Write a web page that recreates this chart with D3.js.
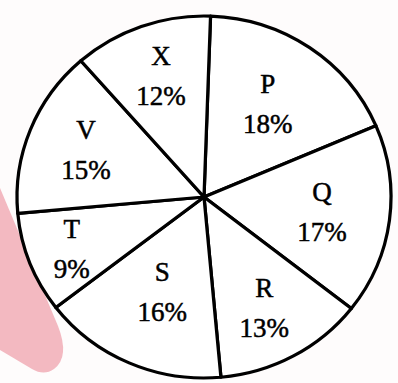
<!DOCTYPE html>
<html>
<head>
<meta charset="utf-8">
<script src="https://cdn.jsdelivr.net/npm/d3@7"></script>
<style>
  html, body { margin: 0; padding: 0; background: #fefcfc; }
  svg { display: block; }
</style>
</head>
<body>
<svg id="chart" width="398" height="383"></svg>
<script>
// Data
const categories = ["P", "Q", "R", "S", "T", "V", "X"];
const values = [18, 17, 13, 16, 9, 15, 12];
const valueLabels = ["18%", "17%", "13%", "16%", "9%", "15%", "12%"];

// Layout constants (not data)
const labelRadius = [113, 119, 126, 104, 142, 127, 128];

const W = 398, H = 383;
const cx = 204, cy = 197, R = 184;
const svg = d3.select("#chart");

// Pink highlighter mark behind the pie
svg.append("path")
  .attr("d", "M0,188 L58,326 Q70,357 54,369 Q44,376 32,369 L0,350 Z")
  .attr("fill", "#f3b9c1");

const pie = d3.pie().sort(null).value(d => d.v)
  .startAngle(0.035).endAngle(0.035 + 2 * Math.PI);
const data = categories.map((c, i) => ({ c, v: values[i], lab: valueLabels[i], lr: labelRadius[i] }));
const arcs = pie(data);
const arc = d3.arc().innerRadius(0).outerRadius(R);

const g = svg.append("g")
  .attr("transform", `translate(${cx},${cy}) scale(${187 / R},${181 / R})`);

g.selectAll("path.slice")
  .data(arcs)
  .join("path")
  .attr("class", "slice")
  .attr("d", arc)
  .attr("fill", "#ffffff")
  .attr("stroke", "#000")
  .attr("stroke-width", 3.2)
  .attr("stroke-linejoin", "round");

const labels = svg.append("g").attr("transform", `translate(${cx},${cy})`);
arcs.forEach(a => {
  const la = d3.arc().innerRadius(a.data.lr).outerRadius(a.data.lr);
  const [x, y] = la.centroid(a);
  const t = labels.append("g").attr("transform", `translate(${x},${y})`);
  [[a.data.c, -11], [a.data.lab, 29]].forEach(([txt, dy]) => {
    t.append("text")
      .attr("text-anchor", "middle")
      .attr("y", dy)
      .attr("font-family", "'Liberation Serif', 'DejaVu Serif', serif")
      .attr("font-size", 27)
      .attr("fill", "#000")
      .attr("stroke", "#000")
      .attr("stroke-width", 0.5)
      .text(txt);
  });
});
</script>
</body>
</html>
